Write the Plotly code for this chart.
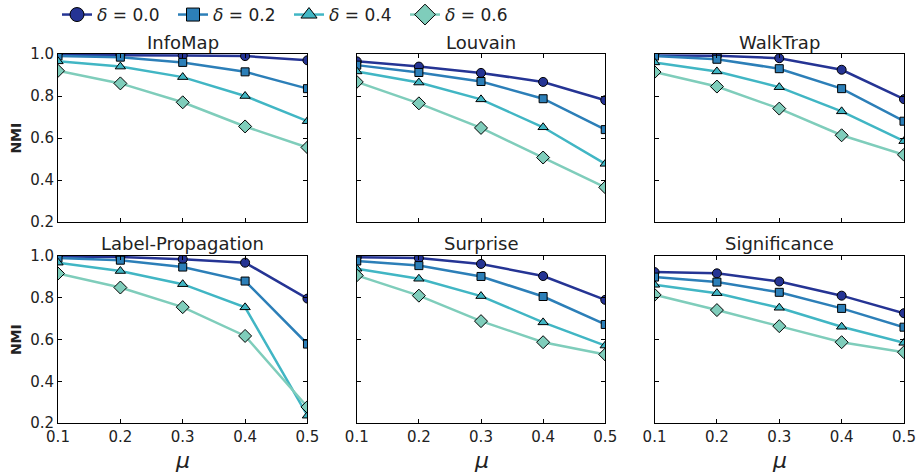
import plotly.graph_objects as go
from plotly.subplots import make_subplots

mu = [0.1, 0.2, 0.3, 0.4, 0.5]
deltas = ["0.0", "0.2", "0.4", "0.6"]
algorithms = ["InfoMap", "Louvain", "WalkTrap", "Label-Propagation", "Surprise", "Significance"]

infomap = [
    [0.995, 0.995, 0.993, 0.990, 0.970],
    [0.990, 0.985, 0.960, 0.915, 0.835],
    [0.965, 0.940, 0.890, 0.800, 0.680],
    [0.920, 0.860, 0.770, 0.655, 0.555],
]
louvain = [
    [0.965, 0.940, 0.910, 0.867, 0.780],
    [0.947, 0.912, 0.869, 0.787, 0.640],
    [0.917, 0.864, 0.784, 0.651, 0.477],
    [0.867, 0.765, 0.648, 0.507, 0.365],
]
walktrap = [
    [0.993, 0.992, 0.980, 0.925, 0.785],
    [0.990, 0.975, 0.930, 0.835, 0.680],
    [0.960, 0.917, 0.842, 0.727, 0.585],
    [0.914, 0.845, 0.740, 0.613, 0.520],
]
label_prop = [
    [0.998, 0.995, 0.985, 0.968, 0.796],
    [0.990, 0.980, 0.947, 0.880, 0.578],
    [0.968, 0.928, 0.865, 0.754, 0.235],
    [0.916, 0.849, 0.755, 0.617, 0.277],
]
surprise = [
    [0.994, 0.990, 0.962, 0.904, 0.790],
    [0.976, 0.954, 0.902, 0.806, 0.672],
    [0.939, 0.891, 0.808, 0.682, 0.571],
    [0.907, 0.810, 0.688, 0.587, 0.528],
]
significance = [
    [0.923, 0.917, 0.878, 0.810, 0.726],
    [0.899, 0.875, 0.826, 0.749, 0.659],
    [0.862, 0.822, 0.752, 0.661, 0.584],
    [0.814, 0.741, 0.664, 0.587, 0.539],
]
all_data = [infomap, louvain, walktrap, label_prop, surprise, significance]

y_ticks = [0.2, 0.4, 0.6, 0.8, 1.0]
x_ticks = [0.1, 0.2, 0.3, 0.4, 0.5]

colors = ["#253494", "#2c7fb8", "#41b6c4", "#7fcdbb"]
symbols = ["circle", "square", "triangle-up", "diamond"]
msizes = [9, 8, 9, 10]
legend_msizes = [14, 13, 14, 16]

FONT = "DejaVu Sans"

fig = make_subplots(rows=2, cols=3)

for i, data in enumerate(all_data):
    r = i // 3 + 1
    c = i % 3 + 1
    for k in range(4):
        fig.add_trace(go.Scatter(
            x=mu, y=data[k], mode="lines+markers",
            line=dict(color=colors[k], width=2.5),
            marker=dict(symbol=symbols[k], size=msizes[k], color=colors[k],
                        line=dict(color="black", width=1)),
            showlegend=False, hoverinfo="skip",
        ), row=r, col=c)

# legend entries
for k in range(4):
    fig.add_trace(go.Scatter(
        x=[None], y=[None], mode="lines+markers",
        name=f"<i>δ</i> = {deltas[k]}",
        line=dict(color=colors[k], width=2.5),
        marker=dict(symbol=symbols[k], size=legend_msizes[k], color=colors[k],
                    line=dict(color="black", width=1)),
        showlegend=True,
    ), row=1, col=1)

W, H = 924, 474
L, R, T, B = 58, 8, 54, 51
pw, ph = W - L - R, H - T - B
col_px = [(58, 311), (361, 613), (663, 916)]
row_px = [(54, 222), (256, 423)]

def xdom(c):
    a, b = col_px[c]
    return [(a - L) / pw, (b - L) / pw]

def ydom(r):
    a, b = row_px[r]
    return [(H - B - b) / ph, (H - B - a) / ph]

annotations = []
for i in range(6):
    r = i // 3
    c = i % 3
    idx = i + 1
    xa = "xaxis" if idx == 1 else f"xaxis{idx}"
    ya = "yaxis" if idx == 1 else f"yaxis{idx}"
    fig.layout[xa].update(
        domain=xdom(c), range=[0.1, 0.5], tickvals=x_ticks,
        ticktext=[f"{v:.1f}" for v in x_ticks] if r == 1 else [""] * 5,
        ticks="inside", ticklen=4, tickcolor="black", mirror="ticks",
        showline=True, linecolor="black", linewidth=1, showgrid=False, zeroline=False,
        tickfont=dict(family=FONT, size=15, color="#222"),
    )
    fig.layout[ya].update(
        domain=ydom(r), range=[0.2, 1.0], tickvals=y_ticks,
        ticktext=[f"{v:.1f}" for v in y_ticks] if c == 0 else [""] * 5,
        ticks="inside", ticklen=4, tickcolor="black", mirror="ticks",
        showline=True, linecolor="black", linewidth=1, showgrid=False, zeroline=False,
        tickfont=dict(family=FONT, size=15, color="#222"),
    )
    xd = xdom(c)
    yd = ydom(r)
    annotations.append(dict(
        text=algorithms[i], x=(xd[0] + xd[1]) / 2, y=yd[1], xref="paper", yref="paper",
        xanchor="center", yanchor="middle", yshift=12 if r == 0 else 13, showarrow=False,
        font=dict(family=FONT, size=18, color="#222"),
    ))
    if r == 1:
        annotations.append(dict(
            text="<i>μ</i>", x=(xd[0] + xd[1]) / 2, y=0, xref="paper", yref="paper",
            xanchor="center", yanchor="middle", yshift=-37, showarrow=False,
            font=dict(family=FONT, size=22, color="#222"),
        ))
    if c == 0:
        annotations.append(dict(
            text="<b>NMI</b>", x=(15 - L) / pw, y=(yd[0] + yd[1]) / 2, xref="paper", yref="paper",
            xanchor="center", yanchor="middle", textangle=-90, showarrow=False,
            font=dict(family=FONT, size=14, color="#222"),
        ))

fig.update_layout(
    width=W, height=H,
    margin=dict(l=L, r=R, t=T, b=B),
    plot_bgcolor="white", paper_bgcolor="white",
    annotations=annotations,
    showlegend=True,
    legend=dict(
        orientation="h", xref="container", yref="container",
        x=57 / W, y=1 - 15 / H, xanchor="left", yanchor="middle",
        font=dict(family=FONT, size=17, color="#222"),
        entrywidth=71, entrywidthmode="pixels", itemsizing="trace",
        bgcolor="rgba(0,0,0,0)", borderwidth=0,
    ),
)

fig.write_html("out.html", config={"displayModeBar": False},
               post_script="document.body.style.margin='0';document.body.style.padding='0';")
